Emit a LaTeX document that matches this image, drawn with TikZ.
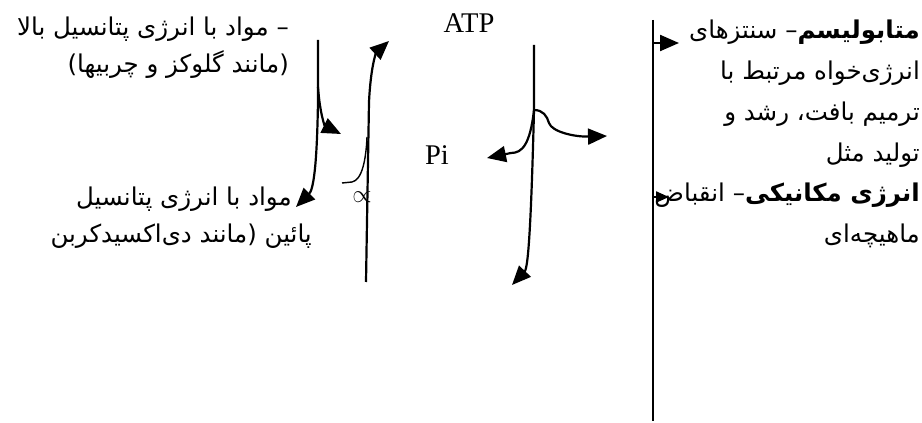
\documentclass[tikz,border=0pt]{standalone}
\usepackage{fontspec}
\usepackage{tikz}
\usetikzlibrary{arrows.meta}
\TeXXeTstate=1
\newfontfamily\arabicfont[Script=Arabic]{DejaVu Sans}
\newfontfamily\timesfont{Liberation Serif}

\begin{document}
\begin{tikzpicture}[x=1pt,y=-1pt,
	flow/.style={line width=2.2pt,-{Triangle[length=19pt,width=16pt]}},
	fa/.style={font=\arabicfont\fontsize{24.5}{37}\selectfont,align=right,inner sep=0pt},
	lat/.style={font=\timesfont\fontsize{28.5}{30}\selectfont,inner sep=0pt}]

	\path[fill=white] (0,0) rectangle (922,421);

	% texts
	\node[fa,anchor=east] (high) at (289,48) {\beginR – مواد با انرژی پتانسیل بالا\endR\\ \beginR (مانند گلوکز و چربیها)\endR};
	\node[fa,anchor=east] (low) at (312,218) {\beginR – مواد با انرژی پتانسیل\endR\\ \beginR پائین (مانند دی‌اکسیدکربن\endR};
	\node[fa,anchor=east,font=\arabicfont\fontsize{24.5}{40.8}\selectfont] (use) at (920,134) {\beginR\textbf{متابولیسم}– سنتزهای\endR\\ \beginR انرژی‌خواه مرتبط با\endR\\ \beginR ترمیم بافت، رشد و\endR\\ \beginR تولید مثل\endR\\ \beginR\textbf{انرژی مکانیکی}– انقباض\endR\\ \beginR ماهیچه‌ای\endR};
	\node[lat] (atp) at (469,23) {ATP};
	\node[lat] (pi) at (437,155) {Pi};
	\node[lat] (prop) at (362,197) {$\propto$};

	% points
	\coordinate (h0) at (318,40);
	\coordinate (h1) at (318,87);
	\coordinate (h2) at (318,100);
	\coordinate (hl) at (296,207);
	\coordinate (hr) at (341,134);
	\coordinate (u0) at (366,282);
	\coordinate (u1) at (369,102);
	\coordinate (ut) at (389,41);
	\coordinate (c0) at (342,183);
	\coordinate (c1) at (352,182);
	\coordinate (ct) at (367,137);
	\coordinate (a0) at (534,45);
	\coordinate (a1) at (534,110);
	\coordinate (ab) at (512,285);
	\coordinate (ap) at (487,158);
	\coordinate (ae) at (607,136);
	\coordinate (v0) at (653,20);
	\coordinate (v1) at (653,421);
	\coordinate (v2) at (653,43);
	\coordinate (v3) at (653,197);
	\coordinate (w2) at (679,43);
	\coordinate (w3) at (669,197);

	% arrows
	\draw[flow] (h0) -- (h2) .. controls (317,170) and (313,190) .. (hl);
	\draw[flow] (h1) .. controls (320,115) and (325,126) .. (hr);
	\draw[flow] (u0) -- (u1) .. controls (371,62) and (377,52) .. (ut);
	\draw[line width=1.4pt] (c0) -- (c1) .. controls (362,180) and (366,160) .. (ct);
	\draw[flow] (a0) -- (a1) .. controls (531,230) and (528,268) .. (ab);
	\draw[flow] (a1) .. controls (530,145) and (522,153) .. (511,153) -- (ap);
	\draw[flow] (a1) .. controls (543,110) and (547,116) .. (549,123) .. controls (552,132) and (575,137) .. (ae);
	\draw[line width=2.2pt] (v0) -- (v1);
	\draw[flow] (v2) -- (w2);
	\draw[flow,-{Triangle[length=13pt,width=11pt]}] (v3) -- (w3);

\end{tikzpicture}
\end{document}
